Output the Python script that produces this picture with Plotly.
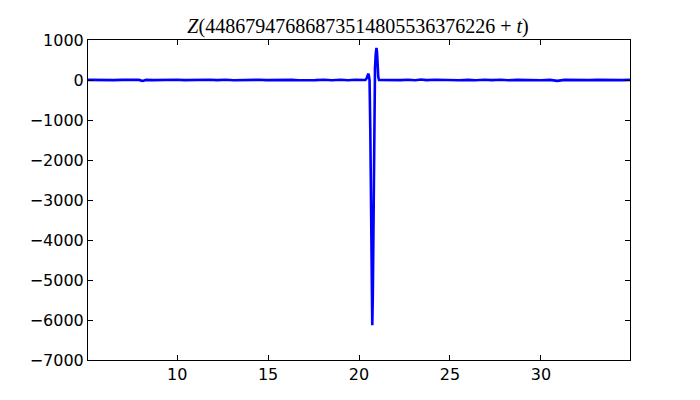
import plotly.graph_objects as go

# t offsets and Z values
t_vals = [5.1, 5.5, 6.0, 6.5, 7.0, 7.5, 7.9, 8.1, 8.3, 8.7, 9.2, 9.6, 10.0, 10.4, 10.9, 11.3,
          11.8, 12.2, 12.7, 13.1, 13.6, 14.0, 14.5, 14.9, 15.4, 15.8, 16.3, 16.7, 17.2, 17.6,
          18.1, 18.5, 19.0, 19.4, 19.8, 20.1, 20.35, 20.42, 20.48, 20.51, 20.54, 20.58, 20.62,
          20.66, 20.70, 20.73, 20.76, 20.79, 20.82, 20.85, 20.88, 20.92, 20.96, 20.99, 21.02,
          21.06, 21.10, 21.4, 21.8, 22.3, 22.7, 23.1, 23.4, 23.7, 24.2, 24.6, 25.1, 25.5, 26.0,
          26.4, 26.9, 27.3, 27.8, 28.2, 28.7, 29.1, 29.6, 30.0, 30.5, 30.9, 31.3, 31.8, 32.2,
          32.7, 33.1, 33.6, 34.0, 34.5, 34.9]
z_vals = [2, -3, 2, -4, 3, -2, 2, -25, 2, -4, 5, -3, 6, -4, 4, -6,
          5, -4, 6, -5, 4, -6, 5, -3, 6, -5, 4, -6, 5, -4,
          6, -5, 6, -5, 7, -4, 0, 40, 130, 160, 120, 0, -1200,
          -3500, -5600, -6130, -5400, -3300, -1200, 0, 300, 650, 800, 700, 350,
          80, 0, -5, 6, -4, 5, -6, 12, -4, 5, -3, 5, -6, 4,
          -5, 6, -4, 5, -5, 3, -4, 6, -5, 4, -22, 3, -5, 6,
          -4, 4, -5, 3, -3, 2]

x_ticks = [10, 15, 20, 25, 30]
y_ticks = [-7000, -6000, -5000, -4000, -3000, -2000, -1000, 0, 1000]
title_text = "<i>Z</i>(44867947686873514805536376226 + <i>t</i>)"

fig = go.Figure()
fig.add_trace(go.Scatter(x=t_vals, y=z_vals, mode="lines",
                         line=dict(color="#0000ff", width=2.6), hoverinfo="skip"))

axis_common = dict(showgrid=False, zeroline=False, showline=True, linecolor="black",
                   linewidth=1, mirror="ticks", ticks="inside", ticklen=5,
                   tickcolor="black", tickfont=dict(family="DejaVu Sans", size=16, color="black"))

# page body has an 8px offset; margins compensate so plot area sits at x 88-630, y 40-360
fig.update_layout(
    width=700, height=400,
    margin=dict(l=80, r=78, t=32, b=48),
    paper_bgcolor="white", plot_bgcolor="white",
    showlegend=False,
    title=dict(text=title_text, x=0.5, xanchor="center", y=0.955, yanchor="middle",
               font=dict(family="Liberation Serif", size=20, color="black")),
    xaxis=dict(range=[5.1, 34.9], tickvals=x_ticks, **axis_common),
    yaxis=dict(range=[-7000, 1000], tickvals=y_ticks, **axis_common),
)

fig.write_html("out.html")
